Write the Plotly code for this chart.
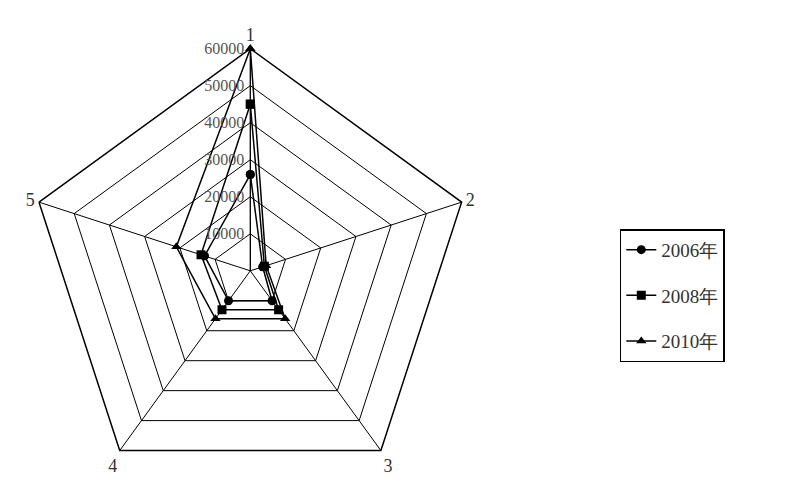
import plotly.graph_objects as go

# ---- data ----
AXES = ["1", "2", "3", "4", "5"]
Y2006 = [26000, 3500, 10000, 10000, 13000]
Y2008 = [45000, 4000, 13000, 13000, 14000]
Y2010 = [60000, 4500, 16000, 16000, 21000]
SERIES = [("2006年", Y2006, "circle"), ("2008年", Y2008, "square"), ("2010年", Y2010, "triangle-up")]
RTICKS = [10000, 20000, 30000, 40000, 50000, 60000]

FONT = "Liberation Serif, Times New Roman, serif"

fig = go.Figure()
for i, (name, vals, sym) in enumerate(SERIES):
    fig.add_trace(go.Scatterpolar(
        r=vals + vals[:1],
        theta=AXES + AXES[:1],
        mode="lines+markers",
        name=name,
        legendgroup=f"g{i}",
        line=dict(color="black", width=1.5),
        marker=dict(symbol=sym, size=9, color="black"),
    ))

fig.update_layout(
    width=805, height=503,
    paper_bgcolor="white",
    margin=dict(l=0, r=0, t=0, b=0),
    font=dict(family=FONT, color="#333", size=15),
    polar=dict(
        domain=dict(x=[0.025, 0.577], y=[0.035, 0.92]),
        gridshape="linear",
        bgcolor="white",
        radialaxis=dict(
            range=[0, 60000], tickvals=RTICKS,
            ticktext=[str(v) for v in RTICKS],
            angle=90, tickangle=90,
            side="counterclockwise",
            showline=True, linecolor="black", linewidth=1,
            gridcolor="black", gridwidth=1.3,
            ticks="", tickfont=dict(size=16, color="#555", family=FONT),
        ),
        angularaxis=dict(
            direction="clockwise", rotation=90,
            showline=True, linecolor="black", linewidth=1.5,
            gridcolor="black", gridwidth=1.3,
            ticks="", tickfont=dict(size=18, color="#333", family=FONT),
        ),
    ),
    legend=dict(
        x=0.76, y=0.56, xanchor="left", yanchor="top",
        bordercolor="black", borderwidth=1.5, bgcolor="white",
        font=dict(size=19, color="#333", family=FONT),
        tracegroupgap=18, entrywidth=150, entrywidthmode="pixels",
    ),
)

fig.write_html("out.html")
